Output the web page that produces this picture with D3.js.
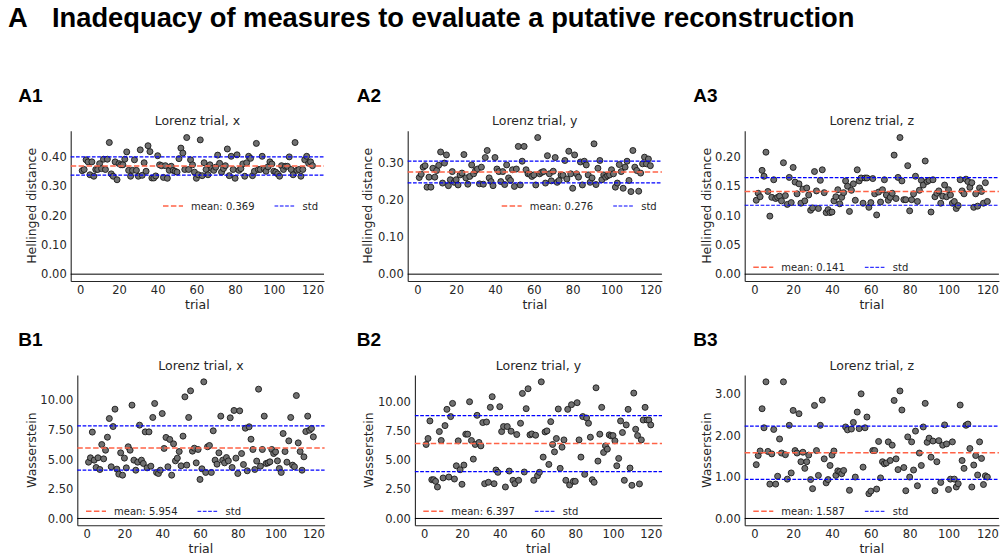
<!DOCTYPE html>
<html>
<head>
<meta charset="utf-8">
<script src="https://cdn.jsdelivr.net/npm/d3@7"></script>
<style>
  body { margin:0; background:#fff; }
  svg text { font-family: "DejaVu Sans", sans-serif; fill:#262626; }
</style>
</head>
<body>
<div id="chart"></div>
<script>
/*  Data  */
var trials = d3.range(1, 121);

var helX = [0.353,0.357,0.39,0.383,0.339,0.383,0.334,0.357,0.357,0.377,
  0.36,0.392,0.357,0.392,0.449,0.342,0.334,0.383,0.322,0.377,
  0.373,0.373,0.392,0.417,0.354,0.334,0.354,0.39,0.354,0.334,
  0.424,0.337,0.38,0.351,0.438,0.418,0.328,0.328,0.335,0.404,
  0.373,0.37,0.33,0.37,0.327,0.354,0.368,0.354,0.351,0.348,
  0.394,0.43,0.413,0.357,0.466,0.357,0.39,0.373,0.348,0.327,
  0.339,0.458,0.336,0.38,0.357,0.339,0.373,0.36,0.354,0.365,
  0.406,0.378,0.348,0.36,0.37,0.427,0.336,0.402,0.357,0.327,
  0.407,0.354,0.36,0.376,0.334,0.38,0.402,0.395,0.336,0.351,
  0.446,0.357,0.357,0.402,0.36,0.351,0.366,0.383,0.376,0.351,
  0.348,0.342,0.334,0.37,0.357,0.368,0.368,0.4,0.357,0.339,
  0.449,0.354,0.357,0.334,0.357,0.39,0.402,0.378,0.383,0.37];

var helY = [0.261,0.27,0.289,0.293,0.235,0.262,0.235,0.286,0.262,0.28,
  0.294,0.33,0.246,0.30,0.322,0.239,0.255,0.277,0.248,0.255,
  0.241,0.268,0.273,0.323,0.26,0.243,0.264,0.295,0.271,0.28,
  0.284,0.244,0.289,0.243,0.315,0.334,0.26,0.25,0.239,0.315,
  0.284,0.277,0.25,0.277,0.242,0.295,0.26,0.253,0.282,0.237,
  0.284,0.345,0.241,0.305,0.345,0.282,0.271,0.27,0.264,0.268,
  0.241,0.369,0.271,0.275,0.277,0.246,0.32,0.271,0.252,0.278,
  0.315,0.248,0.253,0.268,0.267,0.307,0.257,0.332,0.271,0.232,
  0.322,0.271,0.262,0.303,0.241,0.305,0.295,0.268,0.248,0.26,
  0.352,0.242,0.286,0.307,0.255,0.268,0.262,0.266,0.268,0.282,
  0.271,0.235,0.246,0.296,0.277,0.232,0.289,0.305,0.253,0.223,
  0.334,0.289,0.28,0.224,0.273,0.298,0.316,0.298,0.311,0.293];

var helZ = [0.126,0.138,0.132,0.177,0.167,0.208,0.141,0.099,0.131,0.161,
  0.129,0.131,0.133,0.125,0.19,0.134,0.119,0.165,0.122,0.182,
  0.157,0.137,0.154,0.121,0.145,0.125,0.147,0.135,0.109,0.113,
  0.175,0.142,0.112,0.16,0.178,0.139,0.105,0.11,0.105,0.106,
  0.125,0.132,0.144,0.12,0.131,0.139,0.159,0.15,0.107,0.143,
  0.154,0.126,0.178,0.159,0.164,0.121,0.164,0.164,0.114,0.122,
  0.163,0.137,0.101,0.14,0.123,0.144,0.161,0.135,0.126,0.131,
  0.138,0.203,0.129,0.165,0.233,0.159,0.127,0.127,0.185,0.108,
  0.127,0.137,0.167,0.124,0.143,0.16,0.152,0.193,0.158,0.16,
  0.106,0.161,0.132,0.138,0.142,0.121,0.133,0.152,0.132,0.144,
  0.135,0.121,0.124,0.112,0.117,0.161,0.142,0.137,0.162,0.158,
  0.148,0.156,0.114,0.137,0.116,0.147,0.141,0.121,0.156,0.124];

var wasX = [4.76,5.13,7.3,4.93,4.31,5.13,4.14,6.25,5.04,5.77,
  6.87,8.45,4.37,7.77,9.24,4.17,3.75,5.55,3.66,5.1,
  4.28,6.06,5.77,9.58,4.93,4.08,4.76,7.89,4.93,4.65,
  7.32,4.28,7.32,4.42,8.54,9.72,3.89,3.8,4.08,8.87,
  5.92,6.85,4.37,6.68,3.66,6.31,4.87,5.1,5.66,4.45,
  6.96,10.28,4.51,8.54,10.79,5.69,5.94,4.7,5.83,3.3,
  4.2,11.55,3.89,6.06,6.17,3.89,7.41,4.93,4.59,5.55,
  8.65,4.93,4.7,5.15,4.87,8.51,4.31,9.13,5.1,3.8,
  9.1,5.49,4.56,7.63,4.03,7.75,6.7,5.83,4.14,4.85,
  10.93,4.42,5.83,8.65,4.65,4.7,4.79,5.83,5.49,5.63,
  4.87,4.23,3.89,7.18,5.66,4.76,6.56,8.54,4.51,4.37,
  10.39,6.39,5.66,4.08,5.21,7.35,8.65,7.46,7.61,6.9];

var wasY = [6.32,6.83,8.33,3.31,3.31,3.17,2.69,7.42,6.66,3.46,
  7.93,9.32,3.54,8.7,9.83,3.37,4.5,6.63,4.16,2.92,
  4.56,7.2,7.2,9.97,6.66,5.07,6.32,8.81,6.49,6.2,
  8.19,2.97,8.24,3.09,9.49,10.4,2.97,4.14,3.94,9.55,
  7.42,7.85,2.69,7.85,4.05,7.45,3.26,2.97,7.17,3.26,
  8.13,10.68,3.97,9.38,11.08,7.14,7.22,3.26,7.11,3.65,
  3.94,11.67,5.24,7.39,7.48,4.62,8.27,6.32,5.69,6.83,
  9.35,4.28,6.09,6.71,3.26,9.32,2.86,9.72,3.17,3.17,
  9.89,6.71,5.24,8.7,3.77,8.58,8.13,6.94,3.31,3.09,
  11.16,4.9,7.2,9.49,5.64,6.2,5.92,7.14,7.05,7.08,
  6.63,4.5,5.13,8.33,7.34,3.26,7.99,9.32,4.31,2.83,
  10.71,7.62,7.08,2.95,6.71,8.41,9.49,8.41,8.41,7.99];

var wasZ = [1.3,1.52,1.63,2.65,2.19,3.3,1.62,0.83,1.56,2.15,
  0.83,1.02,1.92,1.58,3.3,1.54,0.95,2.25,1.1,2.61,
  1.64,1.58,2.53,1.37,1.6,1.21,1.37,1.53,0.94,0.72,
  2.73,1.64,1.04,2.25,2.86,1.44,0.86,0.94,1.28,1.53,
  1.63,1.04,1.15,1.13,1.08,1.16,2.21,2.14,0.68,2.16,
  2.32,1.0,2.57,2.17,3.01,1.24,2.19,2.45,0.6,0.66,
  1.64,1.64,0.71,1.86,0.98,1.37,1.32,1.34,1.85,1.4,
  1.77,2.85,1.44,1.18,3.08,2.62,1.23,0.67,1.97,1.0,
  1.85,1.17,2.11,0.79,1.58,1.28,2.21,2.78,1.84,1.94,
  1.48,1.87,0.67,1.37,1.88,0.87,1.77,2.26,1.8,0.7,
  0.95,1.85,0.95,0.76,0.84,2.74,1.4,1.21,2.25,2.28,
  1.69,0.76,1.29,1.52,1.05,1.85,1.45,0.82,1.03,1.0];

var panelSeries = [helX, helY, helZ, wasX, wasY, wasZ];
var panelNames = ["A1", "A2", "A3", "B1", "B2", "B3"];
var panelTitles = ["Lorenz trial, x", "Lorenz trial, y", "Lorenz trial, z",
                   "Lorenz trial, x", "Lorenz trial, y", "Lorenz trial, z"];
var yLabels = ["Hellinged distance", "Hellinged distance", "Hellinged distance",
               "Wasserstein", "Wasserstein", "Wasserstein"];
var meanVals = [0.369, 0.276, 0.141, 5.954, 6.397, 1.587];
var stdVals = [0.031, 0.0295, 0.0235, 1.865, 2.395, 0.642];
var yTicks = [[0, 0.1, 0.2, 0.3, 0.4], [0, 0.1, 0.2, 0.3], [0, 0.05, 0.1, 0.15, 0.2],
              [0, 2.5, 5, 7.5, 10], [0, 2.5, 5, 7.5, 10], [0, 1, 2, 3]];
var xTicks = [0, 20, 40, 60, 80, 100, 120];
var figTitle = "Inadequacy of measures to evaluate a putative reconstruction";


/*  Layout (pixels)  */
var boxes = [
  {l: 70.7,  r: 324,   t: 130.7, b: 281,   ylx: 31.7,  lab: [18.3, 102],  leg: [163, 206]},
  {l: 407.7, r: 661.9, t: 130.7, b: 281,   ylx: 368,   lab: [356.7, 102], leg: [501.7, 206]},
  {l: 744.7, r: 998.9, t: 130.7, b: 281,   ylx: 706.7, lab: [693.3, 102], leg: [753.3, 267.3]},
  {l: 77.3,  r: 324.6, t: 375,   b: 525.3, ylx: 31.7,  lab: [18.3, 346],  leg: [86, 511.3]},
  {l: 414.9, r: 662,   t: 375,   b: 525.3, ylx: 368.3, lab: [356.7, 346], leg: [423.3, 511.3]},
  {l: 744.7, r: 998.9, t: 375,   b: 525.3, ylx: 706.7, lab: [693.3, 346], leg: [753.3, 511.3]}
];

var meanColor = "#ff6347", stdColor = "#0000ff", ink = "#262626";


/*  Helpers  */
function SVGElement(parent, elname, attributes)
{
  var el = parent.append(elname);
  Object.keys(attributes).forEach(function(k){ el.attr(k, attributes[k]); });
  return el;
}

var svg = d3.select("#chart").append("svg")
            .attr("xmlns", "http://www.w3.org/2000/svg")
            .attr("width", 1006)
            .attr("height", 560);

SVGElement(svg, "rect", {x: 0, y: 0, width: 1006, height: 560, fill: "#fff"});

/*  Figure title  */
var bigFont = "font-family:'Liberation Sans',Arial,sans-serif;font-weight:bold;font-size:27.3px;fill:#000";
SVGElement(svg, "text", {x: 8, y: 27, style: bigFont}).text("A");
SVGElement(svg, "text", {x: 52, y: 27, style: bigFont}).text(figTitle);


/*  Panels  */
panelSeries.forEach(function(vals, i){
  var bx = boxes[i];
  var g = svg.append("g");

  var xpad = (d3.max(trials) - d3.min(trials)) * 0.05;
  var x = d3.scaleLinear()
            .domain([d3.min(trials) - xpad, d3.max(trials) + xpad])
            .range([bx.l, bx.r]);
  var ymax = d3.max(vals);
  var y = d3.scaleLinear()
            .domain([-0.05 * ymax, 1.05 * ymax])
            .range([bx.b, bx.t]);

  // axes
  var xa = g.append("g")
            .attr("transform", "translate(0," + bx.b + ")")
            .call(d3.axisBottom(x).tickValues(xTicks).tickFormat(d3.format("d"))
                    .tickSizeInner(0).tickSizeOuter(0).tickPadding(4.8));
  var ya = g.append("g")
            .attr("transform", "translate(" + bx.l + ",0)")
            .call(d3.axisLeft(y).tickValues(yTicks[i]).tickFormat(d3.format(".2f"))
                    .tickSizeInner(0).tickSizeOuter(0).tickPadding(4));
  [xa, ya].forEach(function(a){
    a.select(".domain").attr("stroke", ink).attr("stroke-width", 1.1);
    a.selectAll(".tick text").attr("fill", ink)
     .style("font-family", "'DejaVu Sans', sans-serif").style("font-size", "11.5px");
  });

  // zero line
  SVGElement(g, "line", {x1: bx.l, x2: bx.r, y1: y(0), y2: y(0), stroke: "#000", "stroke-width": 1});

  // points
  g.append("g").selectAll("circle")
   .data(vals)
   .join("circle")
   .attr("cx", function(d, k){ return x(trials[k]); })
   .attr("cy", function(d){ return y(d); })
   .attr("r", 3.0)
   .attr("fill", "#707070")
   .attr("stroke", "#1a1a1a")
   .attr("stroke-width", 0.9);

  // mean / std lines
  SVGElement(g, "line", {x1: bx.l, x2: bx.r, y1: y(meanVals[i]), y2: y(meanVals[i]),
    stroke: meanColor, "stroke-width": 1.5, "stroke-dasharray": "5.5,2.4"});
  [meanVals[i] + stdVals[i], meanVals[i] - stdVals[i]].forEach(function(v){
    SVGElement(g, "line", {x1: bx.l, x2: bx.r, y1: y(v), y2: y(v),
      stroke: stdColor, "stroke-width": 1.2, "stroke-dasharray": "3.7,1.6"});
  });

  // titles and labels
  SVGElement(g, "text", {x: (bx.l + bx.r) / 2, y: bx.t - 5.5, "text-anchor": "middle",
    style: "font-size:12.5px"}).text(panelTitles[i]);
  SVGElement(g, "text", {x: (bx.l + bx.r) / 2, y: bx.b + 27.5, "text-anchor": "middle",
    style: "font-size:12.5px"}).text("trial");
  SVGElement(g, "text", {transform: "translate(" + bx.ylx + "," + ((bx.t + bx.b) / 2) + ") rotate(-90)",
    "text-anchor": "middle", dy: "0.35em", style: "font-size:12.5px"}).text(yLabels[i]);
  SVGElement(g, "text", {x: bx.lab[0], y: bx.lab[1],
    style: "font-family:'Liberation Sans',Arial,sans-serif;font-weight:bold;font-size:19px;fill:#000"}).text(panelNames[i]);

  // legend
  var lx = bx.leg[0], ly = bx.leg[1];
  SVGElement(g, "line", {x1: lx, x2: lx + 20, y1: ly, y2: ly,
    stroke: meanColor, "stroke-width": 1.5, "stroke-dasharray": "5.5,2.4"});
  var t1 = SVGElement(g, "text", {x: lx + 28, y: ly, dy: "0.35em", style: "font-size:10px"})
             .text("mean: " + d3.format(".3f")(meanVals[i]));
  var lx2 = lx + 28 + t1.node().getComputedTextLength() + 20;
  SVGElement(g, "line", {x1: lx2, x2: lx2 + 20, y1: ly, y2: ly,
    stroke: stdColor, "stroke-width": 1, "stroke-dasharray": "3.7,1.6"});
  SVGElement(g, "text", {x: lx2 + 28, y: ly, dy: "0.35em", style: "font-size:10px"}).text("std");
});
</script>
</body>
</html>
